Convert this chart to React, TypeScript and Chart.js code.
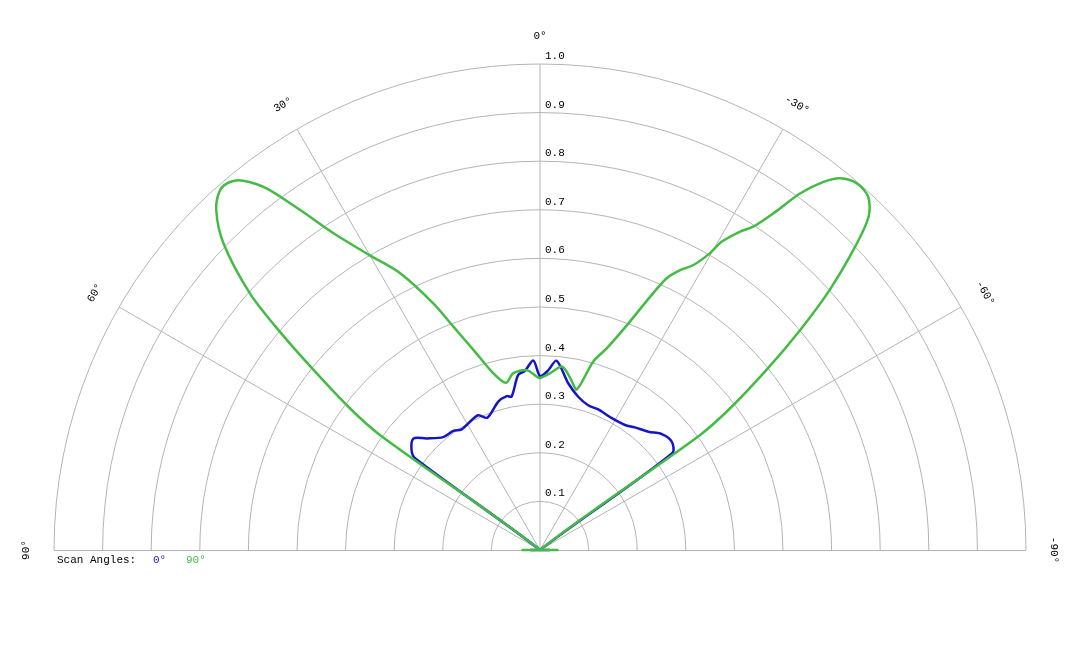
import { useEffect, useRef } from "react";
import { Chart, registerables } from "chart.js";

Chart.register(...registerables);

// polar angle in degrees (positive = left of 0°), radius 0..1
const greenAngles = [
  -90, -56, -54.3, -53.3, -51.5, -49.8, -48.1, -46.1, -44.6, -42.9, -40.8, -38.9, -37.6,
  -36.1, -34.8, -33.4, -32.1, -30.5, -29.8, -28.3, -26.6, -25.0, -23.5, -21.3, -18.3, -15.8, -12.9,
  -10.5, -8.5, -6.7, -3.2, 0, 1.1, 4.2, 8.6, 11.5, 14.8, 18.4, 21.2, 23.4, 26.8, 30.0, 33.1, 35.2,
  37.1, 38.8, 40.1, 41.6, 43.6, 45.9, 48.5, 50.0, 51.5, 53.3, 54.3, 56, 90,
];
const greenValues = [
  0.038, 0, 0.405, 0.488, 0.596, 0.7, 0.8, 0.9, 0.963, 0.992, 0.997, 0.983, 0.956,
  0.908, 0.846, 0.797, 0.773, 0.736, 0.704, 0.666, 0.644, 0.617, 0.568, 0.5, 0.437, 0.403, 0.339,
  0.355, 0.371, 0.38, 0.364, 0.354, 0.357, 0.371, 0.368, 0.351, 0.376, 0.434, 0.493, 0.553, 0.638,
  0.7, 0.778, 0.856, 0.933, 0.975, 0.99, 0.991, 0.966, 0.907, 0.797, 0.699, 0.596, 0.488, 0.405, 0,
  0.038,
];

const blueAngles = [
  -90, -56, -53.8, -50.6, -46.4, -42.5, -37.7, -34.2, -28.6, -22.5, -18.4, -14.0, -9.6, -5.0,
  -2.6, 0, 2.0, 4.8, 7.1, 10.5, 12.2, 15.7, 21.7, 24.6, 27.7, 33.0, 36.0, 40.6, 45.4, 48.6, 52.1,
  53.7, 56, 90,
];
const blueValues = [
  0.02, 0, 0.337, 0.351, 0.346, 0.33, 0.319, 0.311, 0.309, 0.313, 0.314, 0.325, 0.348, 0.391,
  0.37, 0.358, 0.39, 0.37, 0.363, 0.321, 0.324, 0.317, 0.293, 0.305, 0.302, 0.296, 0.303, 0.306,
  0.327, 0.347, 0.335, 0.319, 0, 0.02,
];

const ringValues = [0.1, 0.2, 0.3, 0.4, 0.5, 0.6, 0.7, 0.8, 0.9, 1.0];
const spokeAngles = [-60, -30, 0, 30, 60];
const angleLabels = [90, 60, 30, 0, -30, -60, -90];
const seriesNames = ["0°", "90°"];

const BLUE = "#1515c8";
const GREEN = "#44bb44";
const FONT = '11px "Liberation Mono", "Courier New", monospace';

const rad = (d: number) => (d * Math.PI) / 180;
const toXY = (angles: number[], values: number[]) =>
  angles.map((a, i) => ({ x: -values[i] * Math.sin(rad(a)), y: values[i] * Math.cos(rad(a)) }));

const polarGrid = {
  id: "polarGrid",
  beforeDatasetsDraw(chart: any) {
    const { ctx, scales } = chart;
    const cx = scales.x.getPixelForValue(0);
    const cy = scales.y.getPixelForValue(0);
    const R = scales.x.getPixelForValue(1) - cx;
    ctx.save();
    ctx.strokeStyle = "#b4b4b4";
    ctx.lineWidth = 1;
    ringValues.forEach((r) => {
      ctx.beginPath();
      ctx.arc(cx, cy, r * R, Math.PI, 2 * Math.PI);
      ctx.stroke();
    });
    ctx.beginPath();
    ctx.moveTo(cx - R, cy + 0.5);
    ctx.lineTo(cx + R, cy + 0.5);
    spokeAngles.forEach((a) => {
      ctx.moveTo(cx, cy);
      ctx.lineTo(cx - R * Math.sin(rad(a)), cy - R * Math.cos(rad(a)));
    });
    ctx.stroke();

    ctx.font = FONT;
    ctx.fillStyle = "#000";
    ctx.textAlign = "left";
    ctx.textBaseline = "middle";
    ringValues.forEach((r) => ctx.fillText(r.toFixed(1), cx + 5, cy - r * R - 8));

    ctx.textAlign = "center";
    angleLabels.forEach((a) => {
      const rr = R + 28;
      ctx.save();
      ctx.translate(cx - rr * Math.sin(rad(a)), cy - rr * Math.cos(rad(a)));
      ctx.rotate(-rad(a));
      ctx.fillText(`${a}°`, 0, 0);
      ctx.restore();
    });

    // legend line under the plot
    const ly = cy + 10;
    ctx.textAlign = "left";
    ctx.fillStyle = "#000";
    ctx.fillText("Scan Angles:", cx - R + 3, ly);
    ctx.fillStyle = BLUE;
    ctx.fillText(seriesNames[0], cx - R + 99, ly);
    ctx.fillStyle = GREEN;
    ctx.fillText(seriesNames[1], cx - R + 132, ly);
    ctx.restore();
  },
};

export default function App() {
  const ref = useRef<HTMLCanvasElement>(null);

  useEffect(() => {
    document.body.style.margin = "0";
    if (!ref.current) return;
    const chart = new Chart(ref.current, {
      type: "scatter",
      data: {
        datasets: [
          {
            label: seriesNames[1],
            data: toXY(greenAngles, greenValues),
            showLine: true,
            borderColor: GREEN,
            borderWidth: 2.5,
            pointRadius: 0,
            tension: 0.3,
            clip: false,
          },
          {
            label: seriesNames[0],
            data: toXY(blueAngles, blueValues),
            showLine: true,
            borderColor: BLUE,
            borderWidth: 2.5,
            pointRadius: 0,
            tension: 0.3,
            clip: false,
          },
        ],
      },
      options: {
        animation: false,
        responsive: true,
        maintainAspectRatio: false,
        layout: { padding: { left: 54, right: 54, top: 64, bottom: 98 } },
        scales: {
          x: { type: "linear", min: -1, max: 1, display: false },
          y: { type: "linear", min: 0, max: 1, display: false },
        },
        plugins: { legend: { display: false }, tooltip: { enabled: false } },
      },
      plugins: [polarGrid],
    });
    return () => chart.destroy();
  }, []);

  return (
    <div style={{ width: "1080px", height: "648px", background: "#fff" }}>
      <canvas ref={ref} />
    </div>
  );
}
